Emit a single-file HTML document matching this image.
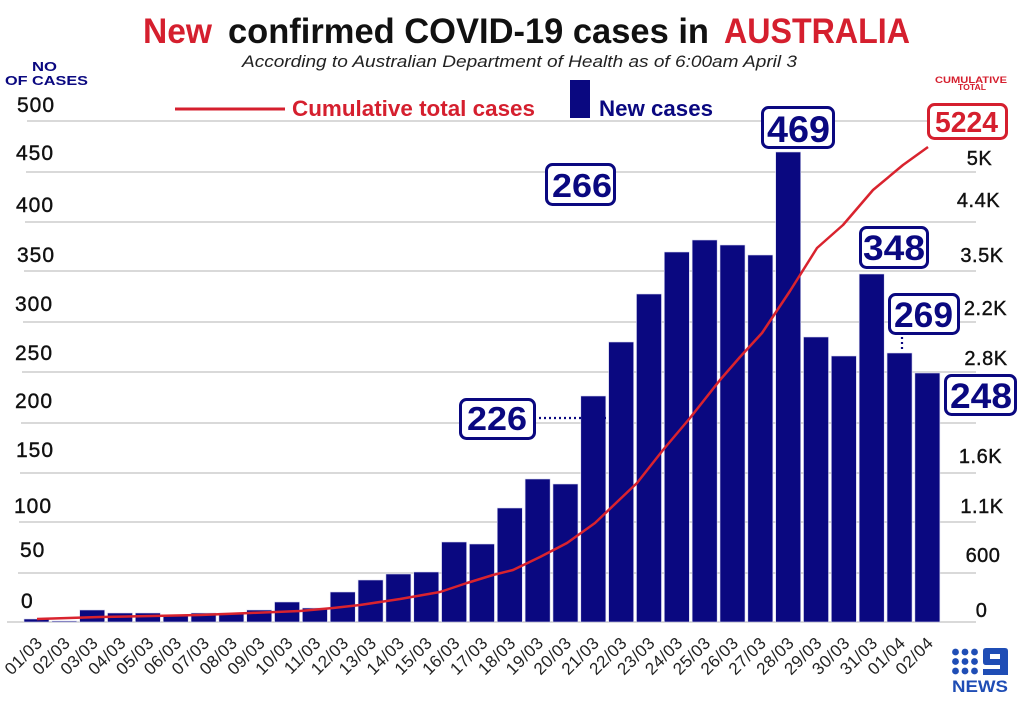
<!DOCTYPE html>
<html><head><meta charset="utf-8"><style>
html,body{margin:0;padding:0;background:#fff;}
svg{display:block;}
text{font-family:"Liberation Sans",sans-serif;}
</style></head><body>
<svg width="1024" height="706" viewBox="0 0 1024 706" xmlns="http://www.w3.org/2000/svg">
<rect width="1024" height="706" fill="#fff"/>
<!-- title -->
<text x="143" y="43" font-size="35" font-weight="bold" fill="#d51f2e" textLength="69" lengthAdjust="spacingAndGlyphs">New</text>
<text x="228" y="43" font-size="35" font-weight="bold" fill="#111" textLength="481" lengthAdjust="spacingAndGlyphs">confirmed COVID-19 cases in</text>
<text x="724" y="43" font-size="35" font-weight="bold" fill="#d51f2e" textLength="186" lengthAdjust="spacingAndGlyphs">AUSTRALIA</text>
<text x="242" y="67" font-size="17" font-style="italic" fill="#222" textLength="555" lengthAdjust="spacingAndGlyphs">According to Australian Department of Health as of 6:00am April 3</text>
<!-- axis titles -->
<text x="32" y="71" font-size="13" font-weight="bold" fill="#0a0880" textLength="25" lengthAdjust="spacingAndGlyphs">NO</text>
<text x="5" y="85" font-size="13" font-weight="bold" fill="#0a0880" textLength="83" lengthAdjust="spacingAndGlyphs">OF CASES</text>
<text x="935" y="83" font-size="9" font-weight="bold" fill="#d51f2e" textLength="72" lengthAdjust="spacingAndGlyphs">CUMULATIVE</text>
<text x="958" y="90" font-size="8" font-weight="bold" fill="#d51f2e" textLength="28" lengthAdjust="spacingAndGlyphs">TOTAL</text>
<!-- legend -->
<line x1="175" y1="109" x2="285" y2="109" stroke="#d51f2e" stroke-width="3"/>
<text x="292" y="116" font-size="22" font-weight="bold" fill="#d51f2e" textLength="243" lengthAdjust="spacingAndGlyphs">Cumulative total cases</text>
<rect x="570" y="80" width="20" height="38" fill="#0a0880"/>
<text x="599" y="116" font-size="22" font-weight="bold" fill="#0a0880" textLength="114" lengthAdjust="spacingAndGlyphs">New cases</text>
<!-- gridlines -->
<g stroke="#d9d9d9" stroke-width="2">
<line x1="27" y1="121" x2="976" y2="121"/>
<line x1="26" y1="172" x2="976" y2="172"/>
<line x1="25" y1="222" x2="976" y2="222"/>
<line x1="24" y1="271" x2="976" y2="271"/>
<line x1="23" y1="322" x2="976" y2="322"/>
<line x1="22" y1="372" x2="976" y2="372"/>
<line x1="21" y1="423" x2="976" y2="423"/>
<line x1="20" y1="473" x2="976" y2="473"/>
<line x1="19" y1="522" x2="976" y2="522"/>
<line x1="18" y1="573" x2="976" y2="573"/>
<line x1="7" y1="622" x2="976" y2="622"/>
</g>
<!-- left labels -->
<g font-size="21" fill="#111" stroke="#111" stroke-width="0.4" letter-spacing="1">
<text x="17" y="112">500</text>
<text x="16" y="160">450</text>
<text x="16" y="212">400</text>
<text x="17" y="262">350</text>
<text x="15" y="311">300</text>
<text x="15" y="360">250</text>
<text x="15" y="408">200</text>
<text x="16" y="457">150</text>
<text x="14" y="513">100</text>
<text x="20" y="557">50</text>
<text x="21" y="608">0</text>
</g>
<!-- right labels -->
<g font-size="20" fill="#111" stroke="#111" stroke-width="0.4" text-anchor="middle" letter-spacing="0.5">
<text x="979.5" y="165">5K</text>
<text x="978.5" y="207">4.4K</text>
<text x="982" y="262">3.5K</text>
<text x="985.5" y="315">2.2K</text>
<text x="986" y="365">2.8K</text>
<text x="980.5" y="463">1.6K</text>
<text x="982" y="513">1.1K</text>
<text x="983" y="562">600</text>
<text x="981.5" y="617">0</text>
</g>
<!-- bars -->
<g fill="#0a0880" stroke="#d8d8f0" stroke-width="0.6">
<rect x="24.0" y="619" width="25" height="3"/>
<rect x="51.84" y="621" width="25" height="1"/>
<rect x="79.68" y="610" width="25" height="12"/>
<rect x="107.52" y="613" width="25" height="9"/>
<rect x="135.36" y="613" width="25" height="9"/>
<rect x="163.2" y="615" width="25" height="7"/>
<rect x="191.04" y="613" width="25" height="9"/>
<rect x="218.88" y="613" width="25" height="9"/>
<rect x="246.72" y="610" width="25" height="12"/>
<rect x="274.56" y="602" width="25" height="20"/>
<rect x="302.4" y="608" width="25" height="14"/>
<rect x="330.24" y="592" width="25" height="30"/>
<rect x="358.08" y="580" width="25" height="42"/>
<rect x="385.92" y="574" width="25" height="48"/>
<rect x="413.76" y="572" width="25" height="50"/>
<rect x="441.6" y="542" width="25" height="80"/>
<rect x="469.44" y="544" width="25" height="78"/>
<rect x="497.28" y="508" width="25" height="114"/>
<rect x="525.12" y="479" width="25" height="143"/>
<rect x="552.96" y="484" width="25" height="138"/>
<rect x="580.8" y="396" width="25" height="226"/>
<rect x="608.64" y="342" width="25" height="280"/>
<rect x="636.48" y="294" width="25" height="328"/>
<rect x="664.32" y="252" width="25" height="370"/>
<rect x="692.16" y="240" width="25" height="382"/>
<rect x="720.0" y="245" width="25" height="377"/>
<rect x="747.84" y="255" width="25" height="367"/>
<rect x="775.68" y="152" width="25" height="470"/>
<rect x="803.52" y="337" width="25" height="285"/>
<rect x="831.36" y="356" width="25" height="266"/>
<rect x="859.2" y="274" width="25" height="348"/>
<rect x="887.04" y="353" width="25" height="269"/>
<rect x="914.88" y="373" width="25" height="249"/>
</g>
<!-- cumulative line -->
<polyline fill="none" stroke="#d9232e" stroke-width="2.5" stroke-linejoin="round" points="37,619 100,617 200,615 250,613 300,611 333,608 360,605 400,599 440,592 467,583 493,575 513,570 540,557 567,543 595,523 637,483 663,450 690,418 720,380 740,357 762,333 790,291 817,248 843,225 873,190 903,165 928,147"/>
<!-- dotted connectors -->
<line x1="539" y1="418" x2="612" y2="418" stroke="#0a0880" stroke-width="2.2" stroke-dasharray="2,3"/>
<line x1="902" y1="337" x2="902" y2="352" stroke="#0a0880" stroke-width="2.2" stroke-dasharray="2,3"/>
<!-- annotation boxes -->
<g fill="#fff" stroke="#0a0880" stroke-width="3">
<rect x="546.5" y="164.5" width="68" height="40" rx="6"/>
<rect x="460.5" y="399.5" width="74" height="39" rx="6"/>
<rect x="762.5" y="107.5" width="71" height="40" rx="6"/>
<rect x="860.5" y="227.5" width="67" height="40" rx="6"/>
<rect x="889.5" y="294.5" width="69" height="39" rx="6"/>
<rect x="945.5" y="375.5" width="70" height="39" rx="6"/>
</g>
<rect x="928.5" y="104.5" width="78" height="34" rx="6" fill="#fff" stroke="#d51f2e" stroke-width="3"/>
<g font-weight="bold" fill="#0a0880">
<text x="552" y="197" font-size="33" textLength="60" lengthAdjust="spacingAndGlyphs">266</text>
<text x="467" y="430" font-size="33" textLength="60" lengthAdjust="spacingAndGlyphs">226</text>
<text x="767" y="142" font-size="37" textLength="63" lengthAdjust="spacingAndGlyphs">469</text>
<text x="863" y="260" font-size="35" textLength="62" lengthAdjust="spacingAndGlyphs">348</text>
<text x="894" y="327" font-size="35" textLength="59" lengthAdjust="spacingAndGlyphs">269</text>
<text x="950" y="408" font-size="35" textLength="62" lengthAdjust="spacingAndGlyphs">248</text>
</g>
<text x="935" y="132" font-size="29" font-weight="bold" fill="#d51f2e" textLength="63" lengthAdjust="spacingAndGlyphs">5224</text>
<!-- x labels -->
<g font-size="17" fill="#222" text-anchor="end" letter-spacing="0.5">
<text transform="translate(43.5,644) rotate(-45)">01/03</text>
<text transform="translate(71.3,644) rotate(-45)">02/03</text>
<text transform="translate(99.2,644) rotate(-45)">03/03</text>
<text transform="translate(127,644) rotate(-45)">04/03</text>
<text transform="translate(154.9,644) rotate(-45)">05/03</text>
<text transform="translate(182.7,644) rotate(-45)">06/03</text>
<text transform="translate(210.5,644) rotate(-45)">07/03</text>
<text transform="translate(238.4,644) rotate(-45)">08/03</text>
<text transform="translate(266.2,644) rotate(-45)">09/03</text>
<text transform="translate(294.1,644) rotate(-45)">10/03</text>
<text transform="translate(321.9,644) rotate(-45)">11/03</text>
<text transform="translate(349.7,644) rotate(-45)">12/03</text>
<text transform="translate(377.6,644) rotate(-45)">13/03</text>
<text transform="translate(405.4,644) rotate(-45)">14/03</text>
<text transform="translate(433.3,644) rotate(-45)">15/03</text>
<text transform="translate(461.1,644) rotate(-45)">16/03</text>
<text transform="translate(488.9,644) rotate(-45)">17/03</text>
<text transform="translate(516.8,644) rotate(-45)">18/03</text>
<text transform="translate(544.6,644) rotate(-45)">19/03</text>
<text transform="translate(572.5,644) rotate(-45)">20/03</text>
<text transform="translate(600.3,644) rotate(-45)">21/03</text>
<text transform="translate(628.1,644) rotate(-45)">22/03</text>
<text transform="translate(656,644) rotate(-45)">23/03</text>
<text transform="translate(683.8,644) rotate(-45)">24/03</text>
<text transform="translate(711.7,644) rotate(-45)">25/03</text>
<text transform="translate(739.5,644) rotate(-45)">26/03</text>
<text transform="translate(767.3,644) rotate(-45)">27/03</text>
<text transform="translate(795.2,644) rotate(-45)">28/03</text>
<text transform="translate(823,644) rotate(-45)">29/03</text>
<text transform="translate(850.9,644) rotate(-45)">30/03</text>
<text transform="translate(878.7,644) rotate(-45)">31/03</text>
<text transform="translate(906.5,644) rotate(-45)">01/04</text>
<text transform="translate(934.4,644) rotate(-45)">02/04</text>
</g>
<!-- 9NEWS logo -->
<g fill="#1f4db5">
<circle cx="955.5" cy="652" r="3.4"/><circle cx="965" cy="652" r="3.4"/><circle cx="974.5" cy="652" r="3.4"/>
<circle cx="955.5" cy="661.5" r="3.4"/><circle cx="965" cy="661.5" r="3.4"/><circle cx="974.5" cy="661.5" r="3.4"/>
<circle cx="955.5" cy="671" r="3.4"/><circle cx="965" cy="671" r="3.4"/><circle cx="974.5" cy="671" r="3.4"/>
<path fill-rule="evenodd" d="M986,648 H1005 Q1008,648 1008,651 V675 H983 V669 H1000 V665 H986 Q983,665 983,662 V651 Q983,648 986,648 Z M990,654 V659 H1000 V654 Z"/>
<text x="952" y="692" font-size="17" font-weight="bold" textLength="56" lengthAdjust="spacingAndGlyphs">NEWS</text>
</g>
</svg>
</body></html>
